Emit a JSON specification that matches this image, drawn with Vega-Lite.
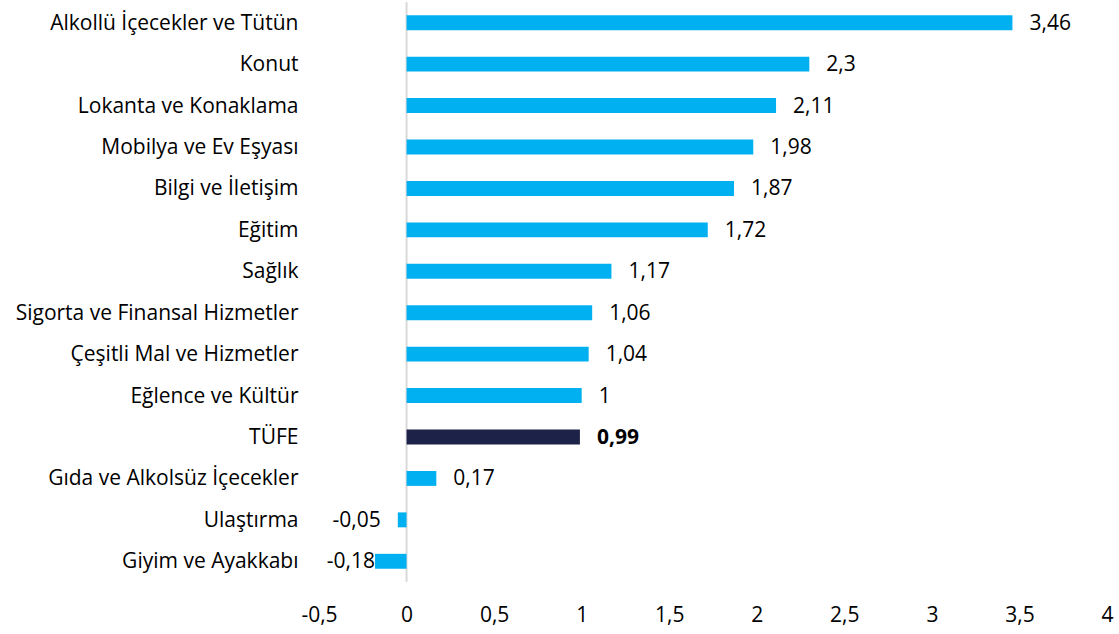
{
  "$schema": "https://vega.github.io/schema/vega-lite/v6.json",
  "autosize": "none",
  "width": 788,
  "height": 580,
  "padding": {"left": 319, "top": 2, "right": 12, "bottom": 52},
  "background": "white",
  "config": {
    "view": {"stroke": null},
    "locale": {"number": {"decimal": ",", "thousands": ".", "grouping": [3], "currency": ["", " TL"], "minus": "-"}},
    "font": "Open Sans"
  },
  "data": {
    "values": [
      {"kategori": "Alkollü İçecekler ve Tütün", "deger": 3.46, "tip": "grup"},
      {"kategori": "Konut", "deger": 2.3, "tip": "grup"},
      {"kategori": "Lokanta ve Konaklama", "deger": 2.11, "tip": "grup"},
      {"kategori": "Mobilya ve Ev Eşyası", "deger": 1.98, "tip": "grup"},
      {"kategori": "Bilgi ve İletişim", "deger": 1.87, "tip": "grup"},
      {"kategori": "Eğitim", "deger": 1.72, "tip": "grup"},
      {"kategori": "Sağlık", "deger": 1.17, "tip": "grup"},
      {"kategori": "Sigorta ve Finansal Hizmetler", "deger": 1.06, "tip": "grup"},
      {"kategori": "Çeşitli Mal ve Hizmetler", "deger": 1.04, "tip": "grup"},
      {"kategori": "Eğlence ve Kültür", "deger": 1, "tip": "grup"},
      {"kategori": "TÜFE", "deger": 0.99, "tip": "genel"},
      {"kategori": "Gıda ve Alkolsüz İçecekler", "deger": 0.17, "tip": "grup"},
      {"kategori": "Ulaştırma", "deger": -0.05, "tip": "grup"},
      {"kategori": "Giyim ve Ayakkabı", "deger": -0.18, "tip": "grup"}
    ]
  },
  "encoding": {
    "y": {
      "field": "kategori",
      "type": "nominal",
      "sort": null,
      "scale": {"paddingInner": 0.64, "paddingOuter": 0.32},
      "axis": {"title": null, "domain": false, "ticks": false, "labelPadding": 21, "labelFontSize": 21, "labelColor": "#000000", "labelFont": "Open Sans", "labelLimit": 400, "labelOffset": 1}
    }
  },
  "layer": [
    {
      "mark": {"type": "rule", "color": "#D9D9D9", "strokeWidth": 2},
      "data": {"values": [{"z": 0}]},
      "encoding": {"x": {"field": "z", "type": "quantitative"}, "y": null}
    },
    {
      "mark": {"type": "bar"},
      "encoding": {
        "x": {
          "field": "deger",
          "type": "quantitative",
          "scale": {"domain": [-0.5, 4], "nice": false, "zero": false},
          "axis": {"title": null, "domain": false, "ticks": false, "grid": false, "values": [-0.5, 0, 0.5, 1, 1.5, 2, 2.5, 3, 3.5, 4], "format": "~g", "labelFontSize": 21, "labelColor": "#000000", "labelPadding": 22, "labelFlush": false, "labelFont": "Open Sans"}
        },
        "color": {
          "field": "tip",
          "type": "nominal",
          "scale": {"domain": ["grup", "genel"], "range": ["#00B0F0", "#1D2249"]},
          "legend": null
        }
      }
    },
    {
      "transform": [{"filter": "datum.deger >= 0 && datum.tip == 'grup'"}],
      "mark": {"type": "text", "align": "left", "baseline": "middle", "dx": 17, "dy": 1, "fontSize": 21, "color": "#000000"},
      "encoding": {
        "x": {"field": "deger", "type": "quantitative"},
        "text": {"field": "deger", "type": "quantitative", "format": "~g"}
      }
    },
    {
      "transform": [{"filter": "datum.tip == 'genel'"}],
      "mark": {"type": "text", "align": "left", "baseline": "middle", "dx": 17, "dy": 1, "fontSize": 21, "fontWeight": "bold", "color": "#000000"},
      "encoding": {
        "x": {"field": "deger", "type": "quantitative"},
        "text": {"field": "deger", "type": "quantitative", "format": "~g"}
      }
    },
    {
      "transform": [{"filter": "datum.deger < 0 && datum.deger > -0.1"}],
      "mark": {"type": "text", "align": "right", "baseline": "middle", "dx": -17, "dy": 1, "fontSize": 21, "color": "#000000"},
      "encoding": {
        "x": {"field": "deger", "type": "quantitative"},
        "text": {"field": "deger", "type": "quantitative", "format": "~g"}
      }
    },
    {
      "transform": [{"filter": "datum.deger <= -0.1"}],
      "mark": {"type": "text", "align": "right", "baseline": "middle", "dx": 0, "dy": 1, "fontSize": 21, "color": "#000000"},
      "encoding": {
        "x": {"field": "deger", "type": "quantitative"},
        "text": {"field": "deger", "type": "quantitative", "format": "~g"}
      }
    }
  ]
}
